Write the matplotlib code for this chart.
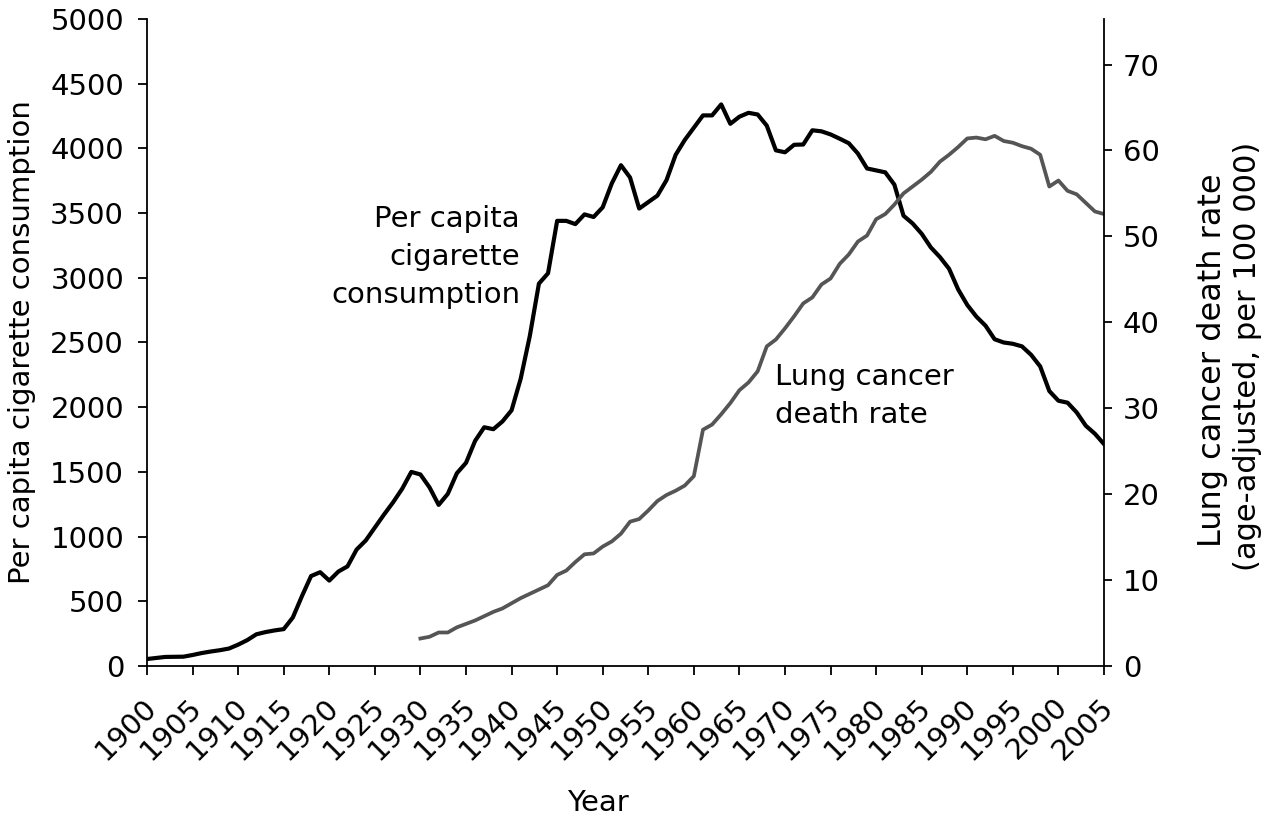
import matplotlib
matplotlib.use("Agg")
import matplotlib.pyplot as plt
import matplotlib.transforms as mtransforms

plt.rcParams['font.family'] = ['DejaVu Sans']

# ---- data ----
cig_years = list(range(1900, 2006))
cig_values = [
    54, 62, 70, 71, 72, 85, 100, 112, 122, 135,            # 1900-1909
    165, 200, 245, 262, 275, 285, 375, 540, 695, 725,      # 1910-1919
    660, 730, 770, 900, 970, 1070, 1170, 1265, 1370, 1500, # 1920-1929
    1480, 1380, 1245, 1330, 1490, 1570, 1740, 1845, 1830, 1890,  # 1930-1939
    1976, 2220, 2550, 2955, 3035, 3440, 3440, 3415, 3490, 3470,  # 1940-1949
    3545, 3730, 3870, 3775, 3535, 3585, 3635, 3755, 3950, 4065,  # 1950-1959
    4160, 4255, 4255, 4340, 4190, 4245, 4275, 4262, 4176, 3985,  # 1960-1969
    3970, 4028, 4030, 4140, 4132, 4108, 4075, 4040, 3960, 3845,  # 1970-1979
    3830, 3815, 3720, 3480, 3420, 3340, 3235, 3160, 3070, 2910,  # 1980-1989
    2790, 2700, 2630, 2525, 2500, 2490, 2470, 2405, 2315, 2125,  # 1990-1999
    2050, 2035, 1960, 1857, 1795, 1715,                          # 2000-2005
]

lung_years = list(range(1930, 2006))
lung_values = [
    3.2, 3.4, 3.9, 3.9, 4.5, 4.9, 5.3, 5.8, 6.3, 6.7,            # 1930-1939
    7.3, 7.9, 8.4, 8.9, 9.4, 10.6, 11.1, 12.1, 13.0, 13.1,       # 1940-1949
    13.9, 14.5, 15.4, 16.8, 17.1, 18.1, 19.2, 19.9, 20.4, 21.0,  # 1950-1959
    22.1, 27.5, 28.1, 29.3, 30.6, 32.1, 33.0, 34.3, 37.2, 38.0,  # 1960-1969
    39.3, 40.7, 42.2, 42.9, 44.4, 45.1, 46.8, 47.9, 49.4, 50.1,  # 1970-1979
    52.0, 52.6, 53.7, 55.0, 55.8, 56.6, 57.5, 58.7, 59.5, 60.4,  # 1980-1989
    61.4, 61.5, 61.3, 61.7, 61.1, 60.9, 60.5, 60.2, 59.5, 55.8,  # 1990-1999
    56.5, 55.3, 54.9, 53.9, 52.9, 52.6,                          # 2000-2005
]

x_ticks = list(range(1900, 2006, 5))
left_ticks = list(range(0, 5001, 500))
right_ticks = list(range(0, 71, 10))

# ---- figure ----
W, H = 1264, 824
fig = plt.figure(figsize=(W / 100, H / 100), dpi=100)
L, R, B, T = 147, 1104, 666, 19
ax = fig.add_axes([L / W, 1 - B / H, (R - L) / W, (B - T) / H])
ax2 = ax.twinx()

FS = 21
ax.plot(cig_years, cig_values, color='black', lw=3.0, zorder=3)
ax2.plot(lung_years, lung_values, color='#555555', lw=2.7, zorder=2)

ax.set_xlim(1900, 2005)
ax.set_ylim(0, 5000)
ax2.set_ylim(0, 75.3)

for a in (ax, ax2):
    a.spines['top'].set_visible(False)
    for s in a.spines.values():
        s.set_linewidth(1.3)
ax.spines['right'].set_visible(False)
ax2.spines['left'].set_visible(False)
ax2.spines['bottom'].set_visible(False)

TL = 6.5  # tick length in points (~9 px)
ax.set_xticks(x_ticks)
ax.set_xticklabels([str(t) for t in x_ticks], rotation=45, ha='right',
                   va='baseline', rotation_mode='anchor', fontsize=FS)
ax.tick_params(axis='x', direction='out', length=TL, width=1.3, pad=24)
shift = mtransforms.ScaledTranslation(11 / 100, 0, fig.dpi_scale_trans)
for lab in ax.get_xticklabels():
    lab.set_transform(lab.get_transform() + shift)

ax.set_yticks(left_ticks)
ax.set_yticklabels([str(t) for t in left_ticks], fontsize=FS)
ax.tick_params(axis='y', direction='out', length=TL, width=1.3, pad=10)
ax2.set_yticks(right_ticks)
ax2.set_yticklabels([str(t) for t in right_ticks], fontsize=FS)
ax2.tick_params(axis='y', direction='out', length=TL - 0.8, width=1.3, pad=8)

fig.text(22 / W, 1 - 342 / H, 'Per capita cigarette consumption', rotation=90,
         ha='center', va='center', fontsize=FS)
fig.text(1212 / W, 1 - 360 / H, 'Lung cancer death rate',
         rotation=90, ha='center', va='center', fontsize=23)
fig.text(1248 / W, 1 - 356 / H, '(age-adjusted, per 100 000)',
         rotation=90, ha='center', va='center', fontsize=22)
fig.text(598 / W, 1 - 803 / H, 'Year', ha='center', va='center', fontsize=FS)

# curve labels (positions in data coordinates)
lab_cig = ['Per capita', 'cigarette', 'consumption']
for txt, yb in zip(lab_cig, [3393, 3099, 2805]):
    ax.text(1940.93, yb, txt, ha='right', va='baseline', fontsize=FS)
lab_lung = ['Lung cancer', 'death rate']
for txt, yb in zip(lab_lung, [2172, 1878]):
    ax.text(1968.9, yb, txt, ha='left', va='baseline', fontsize=FS)

fig.savefig('out.png', dpi=100)
